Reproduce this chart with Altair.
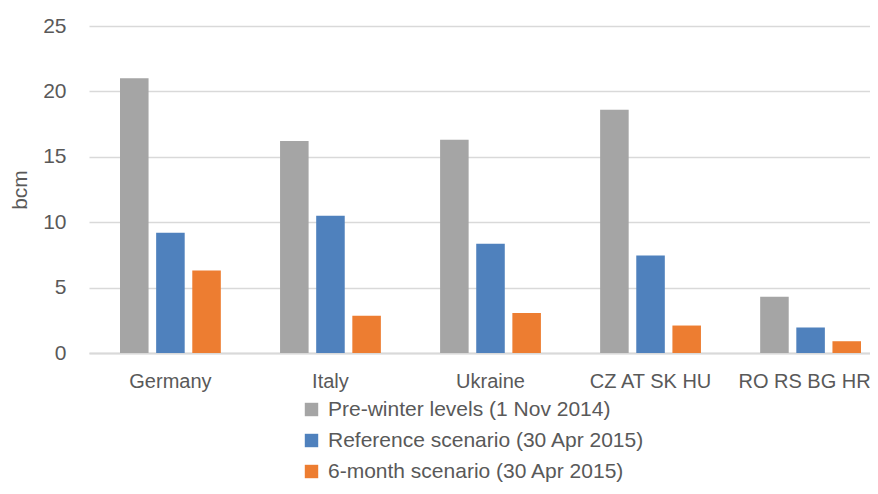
import altair as alt
import pandas as pd

regions = ["Germany", "Italy", "Ukraine", "CZ AT SK HU", "RO RS BG HR"]
series = ["Pre-winter levels (1 Nov 2014)", "Reference scenario (30 Apr 2015)", "6-month scenario (30 Apr 2015)"]
pre_winter = [21.0, 16.2, 16.3, 18.6, 4.3]
reference = [9.2, 10.5, 8.35, 7.45, 1.95]
six_month = [6.3, 2.85, 3.05, 2.1, 0.9]
colors = ["#a5a5a5", "#4f81bd", "#ed7d31"]

rows = []
for s, vals in zip(series, [pre_winter, reference, six_month]):
    for r, v in zip(regions, vals):
        rows.append({"region": r, "series": s, "value": v})
df = pd.DataFrame(rows)

FONT = "Liberation Sans"
TXT = "#595959"
FS = 21

chart = alt.Chart(df).mark_bar().encode(
    x=alt.X("region:N", sort=regions, title=None,
            scale=alt.Scale(paddingInner=0.37, paddingOuter=0.125, align=0.775),
            axis=alt.Axis(labelAngle=0, labelFontSize=20, labelFont=FONT, labelColor=TXT,
                          labelPadding=18, ticks=False, domainColor="#d9d9d9", domainWidth=2,
                          labelOffset={"condition": {"test": "datum.value == 'RO RS BG HR'", "value": -6},
                                       "value": 0})),
    xOffset=alt.XOffset("series:N", sort=series, scale=alt.Scale(paddingInner=0.21)),
    y=alt.Y("value:Q", title="bcm",
            scale=alt.Scale(domain=[0, 25]),
            axis=alt.Axis(values=[0, 5, 10, 15, 20, 25], labelFontSize=FS, labelFont=FONT,
                          labelColor=TXT, labelPadding=23, ticks=False, domain=False,
                          gridColor="#d9d9d9", gridWidth=1.5,
                          titleFont=FONT, titleFontSize=FS, titleFontWeight="normal",
                          titleColor=TXT, titlePadding=12)),
    color=alt.Color("series:N", sort=series,
                    scale=alt.Scale(domain=series, range=colors),
                    legend=alt.Legend(title=None, orient="none", legendX=212, legendY=373,
                                      direction="vertical", symbolType="square", symbolSize=180,
                                      symbolStrokeWidth=0, labelFont=FONT, labelFontSize=FS,
                                      labelColor=TXT, rowPadding=9, labelOffset=6,
                                      labelLimit=0)),
).properties(
    width=781, height=327,
    autosize=alt.AutoSizeParams(type="none"),
    padding={"left": 81, "top": 18, "right": 0, "bottom": 132},
).configure_view(stroke=None)

chart.save("out.html", embed_options={"renderer": "svg", "actions": False})
